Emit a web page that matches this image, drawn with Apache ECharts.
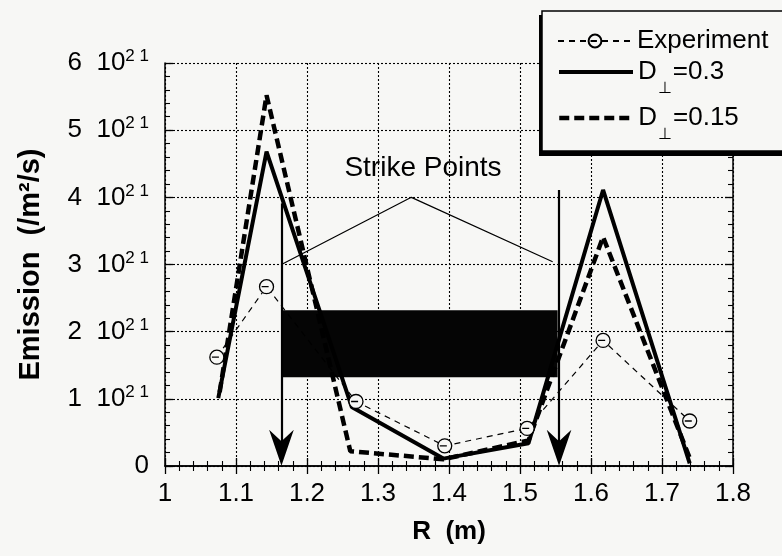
<!DOCTYPE html>
<html>
<head>
<meta charset="utf-8">
<script src="https://cdn.jsdelivr.net/npm/echarts@6/dist/echarts.min.js"></script>
<style>html,body{margin:0;padding:0;background:#f7f7f5;}#c{width:782px;height:556px;}</style>
</head>
<body>
<div id="c"></div>
<script>
// Values are in units of 10^21 /m^2/s
var xTicks = [1, 1.1, 1.2, 1.3, 1.4, 1.5, 1.6, 1.7, 1.8];
var yTicks = [0, 1, 2, 3, 4, 5, 6];

var expR = [1.073, 1.143, 1.269, 1.394, 1.510, 1.617, 1.739];
var expE = [1.62, 2.67, 0.96, 0.30, 0.56, 1.87, 0.67];

var d03R = [1.075, 1.143, 1.263, 1.392, 1.512, 1.617, 1.739];
var d03E = [1.01, 4.68, 0.88, 0.11, 0.34, 4.11, 0.04];

var d015R = [1.077, 1.143, 1.261, 1.392, 1.512, 1.617, 1.739];
var d015E = [1.10, 5.52, 0.22, 0.10, 0.38, 3.41, 0.12];

// strike point annotation: label leader lines and arrows
var leaderR = [1.164, 1.347, 1.546];
var leaderE = [3.00, 4.00, 3.04];
var arrowR = [1.164, 1.555];
var arrowTop = [3.91, 4.11];
var arrowBottom = [0.27, 0.27];

// black box
var boxR = [1.164, 1.553];
var boxE = [1.32, 2.32];

function zip(a, b) { return a.map(function (v, i) { return [v, b[i]]; }); }

var FONT = 'Liberation Sans, Arial, Helvetica, sans-serif';
var BG = '#f7f7f5';
var circlePath = 'path://M10,0 A10,10 0 1,1 10,20 A10,10 0 1,1 10,0 Z M3,10 L13,10';
var arrowPath = 'path://M12,0 L24,35 L12,24 L0,35 Z';

function axisCommon(show) {
  return {
    type: 'value',
    axisLine: { show: true, lineStyle: { color: '#000', width: 1.5 } },
    axisTick: { show: true, inside: true, length: 8, lineStyle: { color: '#000', width: 1.3 } },
    minorTick: { show: true, splitNumber: 5, length: 5, lineStyle: { color: '#000', width: 1.1 } },
    splitLine: { show: show, lineStyle: { color: '#000', width: 1.1, type: [2, 2] } },
    minorSplitLine: { show: false }
  };
}

var xBottom = Object.assign(axisCommon(true), {
  min: xTicks[0], max: xTicks[xTicks.length - 1], interval: 0.1, position: 'bottom',
  axisLabel: { color: '#000', fontSize: 26, fontFamily: FONT, margin: 15 },
  name: 'R  (m)', nameLocation: 'middle', nameGap: 53,
  nameTextStyle: { color: '#000', fontSize: 26, fontWeight: 'bold', fontFamily: FONT }
});
var xTop = Object.assign(axisCommon(false), {
  min: xTicks[0], max: xTicks[xTicks.length - 1], interval: 0.1, position: 'top',
  axisLabel: { show: false }
});
var yLeft = Object.assign(axisCommon(true), {
  min: yTicks[0], max: yTicks[yTicks.length - 1], interval: 1, position: 'left',
  axisLabel: {
    color: '#000', fontFamily: FONT, margin: 16,
    formatter: function (v) { return v === 0 ? '{n|0}' : '{n|' + v + '  10}{s|2 1}'; },
    rich: {
      n: { fontSize: 26, fontFamily: FONT, color: '#000' },
      s: { fontSize: 17, fontFamily: FONT, color: '#000', padding: [0, 0, 13, 0] }
    }
  },
  name: 'Emission  (/m\u00b2/s)', nameLocation: 'middle', nameGap: 120,
  nameTextStyle: { color: '#000', fontSize: 29, fontWeight: 'bold', fontFamily: FONT }
});
var yRight = Object.assign(axisCommon(false), {
  min: yTicks[0], max: yTicks[yTicks.length - 1], interval: 1, position: 'right',
  axisLabel: { show: false }
});

var legendBase = {
  left: 557, orient: 'vertical', itemWidth: 74, itemHeight: 16, itemGap: 0, padding: 0,
  selectedMode: false, z: 10,
  textStyle: { color: '#000', fontSize: 26, fontFamily: FONT }
};
var richD = {
  d: { fontSize: 26, fontFamily: FONT, color: '#000', lineHeight: 50, verticalAlign: 'middle' },
  s: { fontSize: 16, fontFamily: FONT, color: '#000', lineHeight: 18, verticalAlign: 'bottom', padding: [0, 1, 0, 1] }
};

var option = {
  backgroundColor: BG,
  animation: false,
  grid: { left: 165, right: 49, top: 63, bottom: 90 },
  xAxis: [xBottom, xTop],
  yAxis: [yLeft, yRight],
  legend: [
    Object.assign({}, legendBase, { top: 28, data: ['Experiment'] }),
    Object.assign({}, legendBase, {
      top: 59, data: ['D03'],
      lineStyle: { width: 4, type: 'solid', color: '#000' },
      formatter: function () { return '{d|D}{s|\u22a5}{d|=0.3}'; },
      textStyle: { color: '#000', fontSize: 26, fontFamily: FONT, rich: richD }
    }),
    Object.assign({}, legendBase, {
      top: 105, data: ['D015'],
      lineStyle: { width: 4.5, type: [10, 5], color: '#000' },
      formatter: function () { return '{d|D}{s|\u22a5}{d|=0.15}'; },
      textStyle: { color: '#000', fontSize: 26, fontFamily: FONT, rich: richD }
    })
  ],
  graphic: [
    { type: 'rect', z: 8, shape: { x: 539, y: 15, width: 260, height: 141 }, style: { fill: '#000' } },
    { type: 'rect', z: 9, shape: { x: 542, y: 11, width: 260, height: 140 }, style: { fill: BG, stroke: '#000', lineWidth: 1.5 } },
    { type: 'text', z: 9, x: 423, y: 168, style: { text: 'Strike Points', fontSize: 28, fontFamily: FONT, fill: '#000', align: 'center', verticalAlign: 'middle' } }
  ],
  series: [
    {
      name: 'Experiment', type: 'line', data: zip(expR, expE), z: 5,
      symbol: circlePath, symbolSize: 14,
      itemStyle: { color: BG, borderColor: '#000', borderWidth: 1.3 },
      lineStyle: { color: '#000', width: 1.2, type: [6, 5] }
    },
    {
      name: 'D03', type: 'line', data: zip(d03R, d03E), z: 4,
      symbol: 'none', itemStyle: { color: 'rgba(0,0,0,0)' },
      lineStyle: { color: '#000', width: 4, type: 'solid' }
    },
    {
      name: 'D015', type: 'line', data: zip(d015R, d015E), z: 4,
      symbol: 'none', itemStyle: { color: 'rgba(0,0,0,0)' },
      lineStyle: { color: '#000', width: 4.5, type: [10, 5] }
    },
    {
      name: 'leader', type: 'line', data: zip(leaderR, leaderE), z: 3, silent: true,
      symbol: 'none', lineStyle: { color: '#000', width: 1.2 },
      markArea: {
        silent: true,
        itemStyle: { color: '#050505', opacity: 1 },
        data: [[{ coord: [boxR[0], boxE[1]] }, { coord: [boxR[1], boxE[0]] }]]
      },
      markLine: {
        silent: true, animation: false,
        symbol: ['none', arrowPath], symbolSize: 36, symbolKeepAspect: true,
        label: { show: false },
        lineStyle: { color: '#000', width: 2.2, type: 'solid' },
        data: arrowR.map(function (r, i) {
          return [{ coord: [r, arrowTop[i]] }, { coord: [r, arrowBottom[i]] }];
        })
      }
    }
  ]
};
var chart = echarts.init(document.getElementById('c'));
chart.setOption(option);
</script>
</body>
</html>
